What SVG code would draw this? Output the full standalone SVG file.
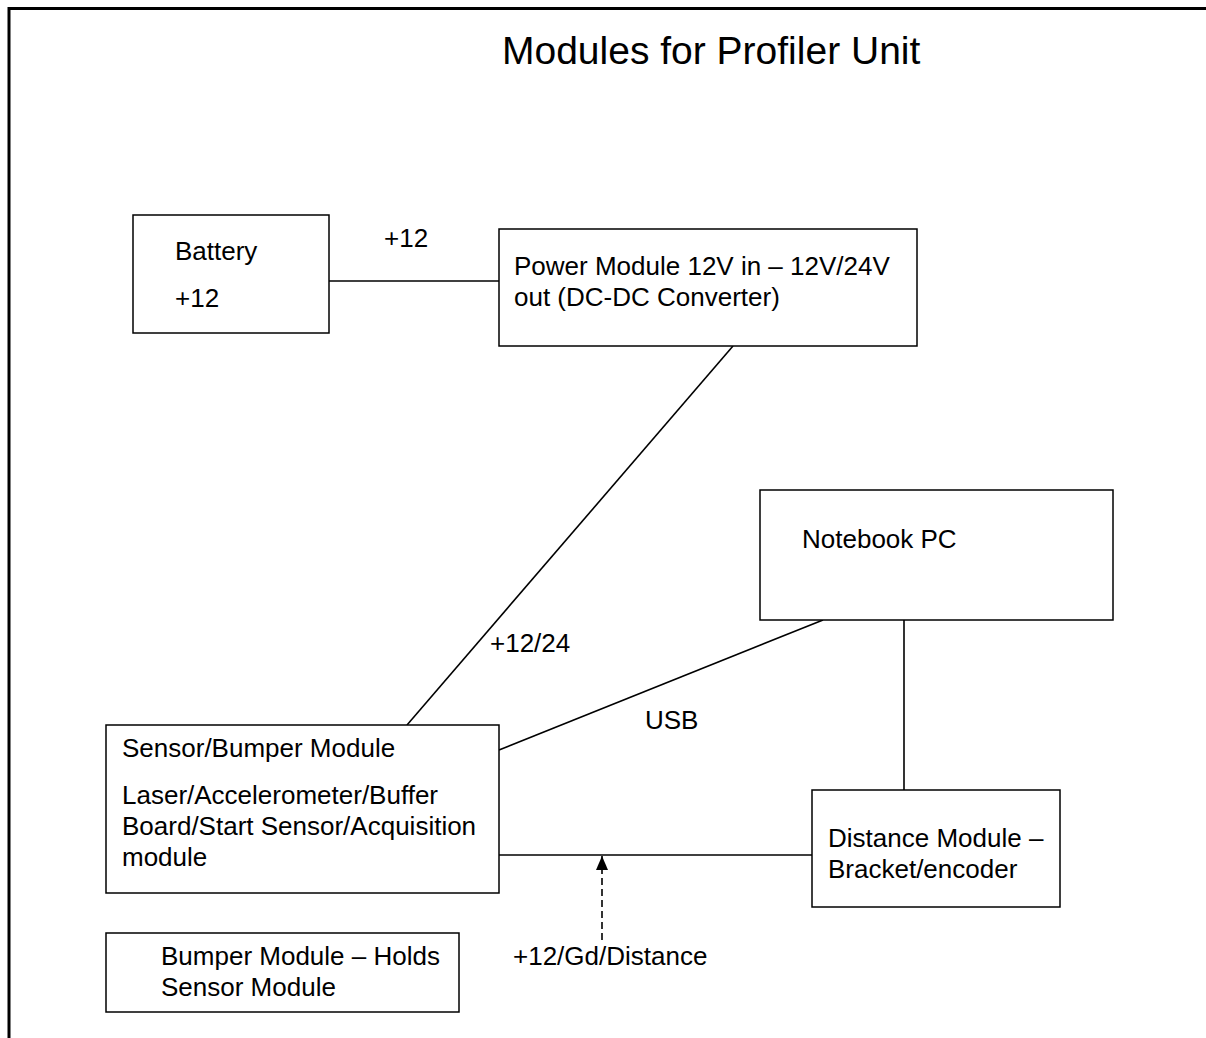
<svg xmlns="http://www.w3.org/2000/svg" width="1206" height="1038" viewBox="0 0 1206 1038">
<style>
.box{fill:#fff;stroke:#000;stroke-width:1.5}
.t{font-family:"Liberation Sans",Arial,sans-serif;font-size:26px;fill:#000}
.ln{stroke:#000;stroke-width:1.6;fill:none}
</style>
<defs>
<marker id="ah" markerWidth="14" markerHeight="12" refX="14" refY="6" orient="auto" markerUnits="userSpaceOnUse" viewBox="0 0 14 12">
<path d="M0,0 L14,6 L0,12 Z" fill="#000"/>
</marker>
</defs>
<rect width="1206" height="1038" fill="#fff"/>
<g id="frame">
<line x1="8" y1="8.5" x2="1206" y2="8.5" stroke="#000" stroke-width="3"/>
<line x1="9" y1="7" x2="9" y2="1038" stroke="#000" stroke-width="3"/>
</g>
<text id="title" class="t" x="502" y="64" style="font-size:39px">Modules for Profiler Unit</text>
<g id="connectors">
<line class="ln" x1="329" y1="281" x2="499" y2="281"/>
<line class="ln" x1="733" y1="346" x2="407" y2="725"/>
<line class="ln" x1="823" y1="620" x2="499" y2="750"/>
<line class="ln" x1="904" y1="620" x2="904" y2="790"/>
<line class="ln" x1="499" y1="855" x2="812" y2="855"/>
<line class="ln" x1="602" y1="940" x2="602" y2="856" stroke-dasharray="7,4" marker-end="url(#ah)"/>
<text class="t" x="384" y="247">+12</text>
<text class="t" x="490" y="652">+12/24</text>
<text class="t" x="645" y="729">USB</text>
<text class="t" x="513" y="965">+12/Gd/Distance</text>
</g>
<g id="battery">
<rect class="box" x="133" y="215" width="196" height="118"/>
<text class="t" x="175" y="260">Battery</text>
<text class="t" x="175" y="307">+12</text>
</g>
<g id="power">
<rect class="box" x="499" y="229" width="418" height="117"/>
<text class="t" x="514" y="275">Power Module 12V in – 12V/24V</text>
<text class="t" x="514" y="306">out (DC-DC Converter)</text>
</g>
<g id="notebook">
<rect class="box" x="760" y="490" width="353" height="130"/>
<text class="t" x="802" y="548">Notebook PC</text>
</g>
<g id="sensor">
<rect class="box" x="106" y="725" width="393" height="168"/>
<text class="t" x="122" y="757">Sensor/Bumper Module</text>
<text class="t" x="122" y="804">Laser/Accelerometer/Buffer</text>
<text class="t" x="122" y="835">Board/Start Sensor/Acquisition</text>
<text class="t" x="122" y="866">module</text>
</g>
<g id="distance">
<rect class="box" x="812" y="790" width="248" height="117"/>
<text class="t" x="828" y="847">Distance Module –</text>
<text class="t" x="828" y="878">Bracket/encoder</text>
</g>
<g id="bumper">
<rect class="box" x="106" y="933" width="353" height="79"/>
<text class="t" x="161" y="965">Bumper Module – Holds</text>
<text class="t" x="161" y="996">Sensor Module</text>
</g>
</svg>
